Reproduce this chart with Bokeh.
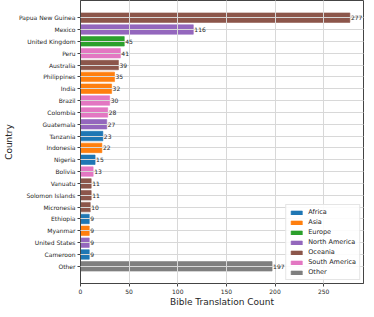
from bokeh.plotting import figure
from bokeh.models import ColumnDataSource, FactorRange, Range1d, Legend, LegendItem, FixedTicker
from bokeh.embed import file_html
from bokeh.resources import INLINE

countries = ["Papua New Guinea", "Mexico", "United Kingdom", "Peru", "Australia",
             "Philippines", "India", "Brazil", "Colombia", "Guatemala", "Tanzania",
             "Indonesia", "Nigeria", "Bolivia", "Vanuatu", "Solomon Islands",
             "Micronesia", "Ethiopia", "Myanmar", "United States", "Cameroon", "Other"]
counts = [277, 116, 45, 41, 39, 35, 32, 30, 28, 27, 23, 22, 15, 13, 11, 11, 10, 9, 9, 9, 9, 197]
continents = ["Oceania", "North America", "Europe", "South America", "Oceania",
              "Asia", "Asia", "South America", "South America", "North America", "Africa",
              "Asia", "Africa", "South America", "Oceania", "Oceania",
              "Oceania", "Africa", "Asia", "North America", "Africa", "Other"]
legend_order = ["Africa", "Asia", "Europe", "North America", "Oceania", "South America", "Other"]
palette = ["#1f77b4", "#ff7f0e", "#2ca02c", "#9467bd", "#8c564b", "#e377c2", "#7f7f7f"]
x_ticks = [0, 50, 100, 150, 200, 250]

FONT = "DejaVu Sans"
TXT = "#262626"

p = figure(width=366, height=309, output_backend="svg", toolbar_location=None,
           y_range=FactorRange(factors=list(reversed(countries)), range_padding=0.95,
                               range_padding_units="absolute"),
           x_range=Range1d(0, 291),
           min_border_left=0, min_border_right=3, min_border_top=0, min_border_bottom=0)

items = []
for cont, col in zip(legend_order, palette):
    idx = [i for i, c in enumerate(continents) if c == cont]
    src = ColumnDataSource(dict(y=[countries[i] for i in idx], v=[counts[i] for i in idx]))
    r = p.hbar(y="y", right="v", left=0, height=0.8, source=src,
               fill_color=col, line_color=col, line_alpha=0.6)
    items.append(LegendItem(label=cont, renderers=[r]))

lab_src = ColumnDataSource(dict(y=countries, v=counts, t=[str(c) for c in counts]))
p.text(x="v", y="y", text="t", source=lab_src, x_offset=1, text_baseline="middle",
       text_align="left", text_font_size="6px", text_color=TXT,
       text_font={"value": FONT}, level="annotation")

legend = Legend(items=items, location="bottom_right")
legend.label_text_font_size = "6.5px"
legend.label_text_font = FONT
legend.label_text_color = TXT
legend.glyph_width = 14
legend.glyph_height = 5
legend.label_height = 6
legend.spacing = 2
legend.padding = 3
legend.margin = 3
legend.label_standoff = 5
legend.border_line_color = "#cccccc"
legend.background_fill_alpha = 0.9
p.add_layout(legend)

p.xaxis.ticker = FixedTicker(ticks=x_ticks)
p.xaxis.axis_label = "Bible Translation Count"
p.yaxis.axis_label = "Country"
for ax in (p.xaxis, p.yaxis):
    ax.axis_label_text_font = FONT
    ax.axis_label_text_font_style = "normal"
    ax.axis_label_text_font_size = "9px"
    ax.axis_label_text_color = TXT
    ax.major_label_text_font = FONT
    ax.major_label_text_font_size = "6px"
    ax.major_label_text_color = TXT
    ax.axis_line_color = "#444444"
    ax.major_tick_line_color = "#444444"
    ax.major_tick_in = 0
    ax.major_tick_out = 3
    ax.minor_tick_line_color = None
    ax.major_label_standoff = 2
p.xaxis.axis_label_standoff = 0
p.yaxis.axis_label_standoff = 2

p.xgrid.grid_line_color = "#d8d8d8"
p.ygrid.grid_line_color = "#d8d8d8"
p.xgrid.level = "guide"
p.ygrid.level = "guide"
p.outline_line_color = "#444444"

open("out.html", "w").write(file_html(p, INLINE))
